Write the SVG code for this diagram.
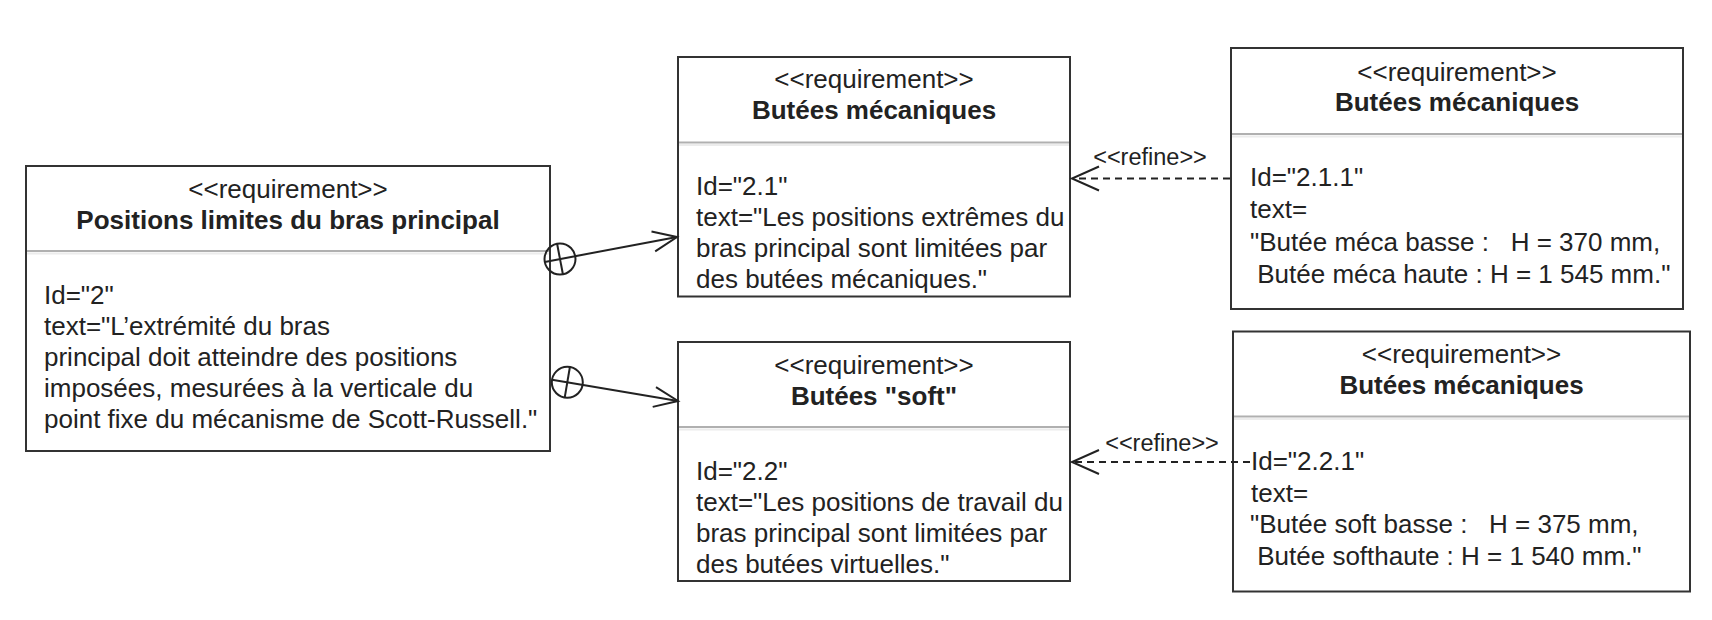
<svg xmlns="http://www.w3.org/2000/svg" width="1712" height="620" viewBox="0 0 1712 620">
<style>
.box{fill:#fff;stroke:#333;stroke-width:2}
.sep{stroke:#b0b0b0;stroke-width:2}
.sep2{stroke:#ececec;stroke-width:2}
text{font-family:"Liberation Sans",Arial,sans-serif;fill:#222;font-size:26px;white-space:pre}
.st{text-anchor:middle}
.tt{text-anchor:middle;font-weight:bold}
.ln{stroke:#222;stroke-width:2;fill:none}
.dash{stroke:#222;stroke-width:2;fill:none;stroke-dasharray:7 5}
.lbl{font-size:23.5px;text-anchor:middle}
</style>
<rect width="1712" height="620" fill="#fff"/>
<g id="node-2">
<rect class="box" x="26" y="166" width="524" height="285"/>
<line class="sep" x1="27" y1="251" x2="549" y2="251"/>
<line class="sep2" x1="27" y1="253.5" x2="549" y2="253.5"/>
<text class="st" x="288" y="198">&lt;&lt;requirement&gt;&gt;</text>
<text class="tt" x="288" y="229">Positions limites du bras principal</text>
<text x="44" y="304">Id="2"</text>
<text x="44" y="335">text="L’extrémité du bras</text>
<text x="44" y="366">principal doit atteindre des positions</text>
<text x="44" y="397">imposées, mesurées à la verticale du</text>
<text x="44" y="428">point fixe du mécanisme de Scott-Russell."</text>
</g>
<g id="node-2-1">
<rect class="box" x="678" y="57" width="392" height="239.5"/>
<line class="sep" x1="679" y1="142.5" x2="1069" y2="142.5"/>
<line class="sep2" x1="679" y1="145" x2="1069" y2="145"/>
<text class="st" x="874" y="88">&lt;&lt;requirement&gt;&gt;</text>
<text class="tt" x="874" y="119">Butées mécaniques</text>
<text x="696" y="195">Id="2.1"</text>
<text x="696" y="226">text="Les positions extrêmes du</text>
<text x="696" y="257">bras principal sont limitées par</text>
<text x="696" y="288">des butées mécaniques."</text>
</g>
<g id="node-2-1-1">
<rect class="box" x="1231" y="48" width="452" height="261"/>
<line class="sep" x1="1232" y1="134" x2="1682" y2="134"/>
<line class="sep2" x1="1232" y1="136.5" x2="1682" y2="136.5"/>
<text class="st" x="1457" y="81">&lt;&lt;requirement&gt;&gt;</text>
<text class="tt" x="1457" y="111">Butées mécaniques</text>
<text x="1250" y="185.5">Id="2.1.1"</text>
<text x="1250" y="218">text=</text>
<text x="1250" y="250.5">"Butée méca basse :   H = 370 mm,</text>
<text x="1250" y="283"> Butée méca haute : H = 1 545 mm."</text>
</g>
<g id="node-2-2">
<rect class="box" x="678" y="342" width="392" height="239"/>
<line class="sep" x1="679" y1="427" x2="1069" y2="427"/>
<line class="sep2" x1="679" y1="429.5" x2="1069" y2="429.5"/>
<text class="st" x="874" y="374">&lt;&lt;requirement&gt;&gt;</text>
<text class="tt" x="874" y="405">Butées "soft"</text>
<text x="696" y="479.5">Id="2.2"</text>
<text x="696" y="511">text="Les positions de travail du</text>
<text x="696" y="542">bras principal sont limitées par</text>
<text x="696" y="573">des butées virtuelles."</text>
</g>
<g id="node-2-2-1">
<rect class="box" x="1233" y="331.5" width="457" height="260"/>
<line class="sep" x1="1234" y1="416.5" x2="1689" y2="416.5"/>
<line class="sep2" x1="1234" y1="419" x2="1689" y2="419"/>
<text class="st" x="1461.5" y="363">&lt;&lt;requirement&gt;&gt;</text>
<text class="tt" x="1461.5" y="394">Butées mécaniques</text>
<text x="1251" y="469.5">Id="2.2.1"</text>
<text x="1251" y="501.5">text=</text>
<text x="1250" y="533">"Butée soft basse :   H = 375 mm,</text>
<text x="1250" y="565"> Butée softhaute : H = 1 540 mm."</text>
</g>
<g id="connectors">
<circle class="ln" cx="560" cy="259" r="15.5"/>
<line class="ln" x1="544.8" y1="261.9" x2="677" y2="237"/>
<line class="ln" x1="557.1" y1="243.8" x2="562.9" y2="274.2"/>
<polyline class="ln" points="651.5,231.6 677,237 655.2,251.3"/>
<circle class="ln" cx="567.3" cy="382.3" r="15.5"/>
<line class="ln" x1="552" y1="379.7" x2="678" y2="401"/>
<line class="ln" x1="564.7" y1="397.6" x2="569.9" y2="367"/>
<polyline class="ln" points="656,387.1 678,401 652.7,406.9"/>
<line class="dash" x1="1230" y1="178.5" x2="1074" y2="178.5"/>
<polyline class="ln" points="1099,166.5 1072,178.5 1099,190.5"/>
<text class="lbl" x="1150" y="164.5">&lt;&lt;refine&gt;&gt;</text>
<line class="dash" x1="1250" y1="462" x2="1074" y2="462"/>
<polyline class="ln" points="1099,450 1072,462 1099,474"/>
<text class="lbl" x="1162" y="451">&lt;&lt;refine&gt;&gt;</text>
</g>
</svg>
